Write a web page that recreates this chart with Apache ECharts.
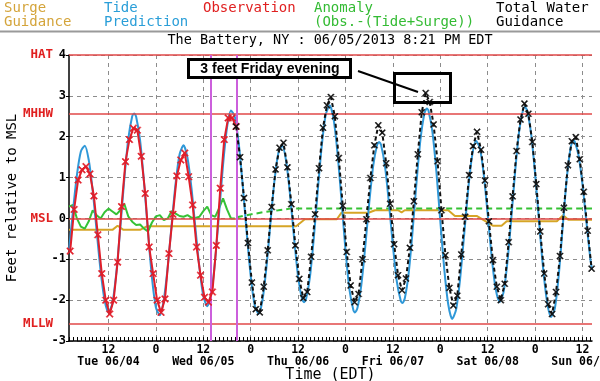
<!DOCTYPE html>
<html><head><meta charset="utf-8">
<script src="https://cdn.jsdelivr.net/npm/echarts@6/dist/echarts.min.js"></script>
<style>html,body{margin:0;padding:0;background:#fff}#c{width:600px;height:381px}</style>
</head><body><div id="c"></div>
<script>
// time axis: hours counted from 06/04/2013 00:00 EDT
const xMin = 2, xMax = 134.4;
const dayLabels = ['Tue 06/04','Wed 06/05','Thu 06/06','Fri 06/07','Sat 06/08','Sun 06/09'];
const majorTicks = [12,24,36,48,60,72,84,96,108,120,132];
const refNames = ['HAT','MHHW','MSL','MLLW'];
const refLevels = [4, 2.55, 0, -2.57];
const nowLines = [38, 44.5];

const tide = [[2,-0.78],[3,0.18],[4,1.06],[5,1.64],[6,1.78],[7,1.43],[8,0.68],[9,-0.31],[10,-1.28],[11,-2.00],[12,-2.30],[13,-2.07],[14,-1.31],[15,-0.22],[16,0.96],[17,1.94],[18,2.50],[18.5,2.57],[19,2.49],[20,1.91],[21,0.88],[22,-0.33],[23,-1.45],[24,-2.18],[25,-2.37],[26,-1.99],[27,-1.18],[28,-0.13],[29,0.87],[30,1.57],[31,1.79],[32,1.48],[33,0.75],[34,-0.23],[35,-1.19],[36,-1.90],[37,-2.15],[38,-1.85],[39,-1.02],[40,0.13],[41,1.31],[42,2.22],[43,2.64],[44,2.48],[45,1.81],[46,0.79],[47,-0.37],[48,-1.41],[49,-2.12],[50,-2.34],[51,-1.99],[52,-1.18],[53,-0.11],[54,0.91],[55,1.60],[56,1.78],[57,1.38],[58,0.54],[59,-0.50],[60,-1.43],[61,-1.98],[61.5,-2.05],[62,-1.98],[63,-1.43],[64,-0.45],[65,0.71],[66,1.79],[67,2.54],[68,2.77],[69,2.42],[70,1.57],[71,0.42],[72,-0.78],[73,-1.74],[74,-2.25],[74.4,-2.30],[75,-2.20],[76,-1.63],[77,-0.69],[78,0.37],[79,1.28],[80,1.80],[80.5,1.87],[81,1.80],[82,1.27],[83,0.37],[84,-0.67],[85,-1.55],[86,-2.02],[86.4,-2.07],[87,-1.96],[88,-1.33],[89,-0.29],[90,0.91],[91,1.95],[92,2.58],[92.6,2.69],[93,2.64],[94,2.12],[95,1.15],[96,-0.07],[97,-1.24],[98,-2.10],[99,-2.46],[100,-2.23],[101,-1.49],[102,-0.44],[103,0.65],[104,1.50],[105,1.90],[106,1.73],[107,1.07],[108,0.09],[109,-0.94],[110,-1.72],[111,-2.05],[112,-1.81],[113,-1.06],[114,0.04],[115,1.21],[116,2.17],[117,2.68],[117.4,2.73],[118,2.63],[119,2.06],[120,1.09],[121,-0.08],[122,-1.20],[123,-2.03],[124,-2.41],[125,-2.20],[126,-1.37],[127,-0.19],[128,0.97],[129,1.74],[129.7,1.91],[130,1.89],[131,1.54],[132,0.83],[133,-0.10],[134,-1.01],[134.4,-1.25]];

// hourly observations starting 06/04 02:18
const obsStart = 2.3;
const observation = [-0.80,0.22,0.94,1.19,1.27,1.09,0.55,-0.40,-1.35,-2.00,-2.34,-2.00,-1.07,0.29,1.39,1.93,2.21,2.16,1.52,0.61,-0.70,-1.35,-2.00,-2.30,-1.97,-0.86,0.10,1.04,1.43,1.60,1.02,0.33,-0.70,-1.39,-1.93,-2.05,-1.80,-0.66,0.74,1.93,2.46,2.46,2.25];

// hourly total water guidance starting 06/05 20:18
const twgStart = 44.3;
const totalWater = [2.25,1.50,0.50,-0.60,-1.57,-2.22,-2.30,-1.67,-0.78,0.28,1.20,1.73,1.85,1.25,0.35,-0.66,-1.48,-1.95,-1.80,-0.94,0.10,1.23,2.22,2.77,2.97,2.50,1.48,0.31,-0.82,-1.64,-2.05,-1.85,-1.00,-0.02,0.99,1.79,2.28,2.10,1.35,0.36,-0.63,-1.39,-1.76,-1.47,-0.72,0.42,1.57,2.60,3.07,2.85,2.30,1.40,0.20,-0.90,-1.70,-2.13,-1.89,-0.88,0.04,1.06,1.77,2.12,1.68,0.93,-0.07,-1.02,-1.67,-2.00,-1.60,-0.58,0.54,1.65,2.42,2.81,2.56,1.87,0.84,-0.32,-1.35,-2.10,-2.34,-1.80,-0.92,0.26,1.30,1.89,1.99,1.45,0.65,-0.30,-1.23];

// hourly anomaly (observed) starting 06/04 02:00
const anomalyStart = 2;
const anomalyObs = [0.29,0.33,0.00,-0.20,-0.25,-0.07,0.20,0.08,0.00,0.15,0.24,0.17,0.10,0.20,0.36,0.05,-0.08,-0.16,-0.15,-0.25,-0.32,-0.10,0.05,0.08,-0.04,0.00,0.18,0.12,0.06,0.04,0.08,0.02,0.01,0.04,0.18,0.29,0.08,0.04,0.25,0.49,0.22,0.00,0.00];
const anomalyFcst = [[44.5,0.03],[47,0.08],[51,0.15],[55,0.20],[58,0.24],[134.4,0.24]];

const surge = [[2,-0.28],[13,-0.28],[14.3,-0.18],[15.8,-0.28],[20,-0.28],[21.8,-0.19],[59.5,-0.19],[61.7,-0.02],[69.8,-0.02],[71,0.14],[77.8,0.14],[79.5,0.20],[85.3,0.20],[86.2,0.15],[87,0.20],[98,0.20],[99.7,0.06],[105.2,0.06],[109.4,-0.18],[111.5,-0.18],[112.8,-0.07],[125.5,-0.07],[127.1,0.08],[128.4,-0.03],[134.4,-0.03]];

const hourTicks = [];
for (let h = Math.ceil(xMin); h <= xMax; h++) hourTicks.push(h);
const withTimes = (start, vals) => vals.map((v, i) => [start + i, v]);

const mono = '"DejaVu Sans Mono", monospace';
const XSYM = 'path://M0,1.2L1.2,0L5,3.8L8.8,0L10,1.2L6.2,5L10,8.8L8.8,10L5,6.2L1.2,10L0,8.8L3.8,5Z';
const RED = '#e01e2a', BLUE = '#2f98d8', GREEN = '#35c235', GOLD = '#d6a526', REFRED = '#e04848';

const chart = echarts.init(document.getElementById('c'), null, {renderer: 'canvas'});
chart.setOption({
  animation: false,
  backgroundColor: '#fff',
  grid: {left: 69, right: 8, top: 55, bottom: 40, containLabel: false, outerBoundsMode: 'none'},
  xAxis: [{
    type: 'value', min: xMin, max: xMax, position: 'bottom',
    axisLine: {show: true, onZero: false, lineStyle: {color: '#000', width: 1.5}},
    axisTick: {show: true, customValues: hourTicks, inside: true, length: 4, lineStyle: {color: '#000'}},
    axisLabel: {customValues: majorTicks, color: '#000', fontFamily: mono, fontSize: 11.5, fontWeight: 'bold', lineHeight: 12, margin: 3,
      formatter: v => (v % 24 === 12) ? '12\n' + dayLabels[Math.floor(v / 24)] : '0'},
    splitLine: {show: false},
    name: 'Time (EDT)', nameLocation: 'middle', nameGap: 26.5, nameMoveOverlap: false,
    nameTextStyle: {color: '#000', fontFamily: mono, fontSize: 15}
  }, {
    type: 'value', min: xMin, max: xMax, position: 'top',
    axisLine: {show: false}, axisTick: {show: false, customValues: majorTicks},
    axisLabel: {show: false, customValues: majorTicks},
    splitLine: {show: true, lineStyle: {color: '#8c8c8c', type: [4, 4], width: 1}}
  }],
  yAxis: {
    type: 'value', min: -3, max: 4, interval: 1,
    axisLine: {show: true, onZero: false, lineStyle: {color: '#000', width: 1.5}},
    axisTick: {show: true, length: 3, lineStyle: {color: '#000'}},
    axisLabel: {color: '#000', fontFamily: mono, fontSize: 12, fontWeight: 'bold', margin: 3},
    splitLine: {show: true, lineStyle: {color: '#8c8c8c', type: [4, 4], width: 1}},
    name: 'Feet relative to MSL', nameLocation: 'middle', nameGap: 50, nameMoveOverlap: false,
    nameTextStyle: {color: '#000', fontFamily: mono, fontSize: 14}
  },
  series: [
    {
      name: 'levels', type: 'line', data: [], clip: false, z: 1, silent: true,
      markLine: {
        silent: true, symbol: 'none', animation: false,
        lineStyle: {color: REFRED, width: 1.5, type: 'solid'},
        label: {show: true, position: 'start', distance: 16, color: '#e02020', fontFamily: mono, fontSize: 12.5, fontWeight: 'bold',
          formatter: p => p.name},
        data: refLevels.map((v, i) => ({yAxis: v, name: refNames[i]}))
      }
    },
    {
      name: 'now', type: 'line', data: [], clip: false, z: 2, silent: true,
      markLine: {
        silent: true, symbol: 'none', animation: false,
        lineStyle: {color: '#cc5fdc', width: 2, type: 'solid'},
        label: {show: false},
        data: nowLines.map(v => ({xAxis: v}))
      }
    },
    {name: 'Surge Guidance', type: 'line', data: surge, showSymbol: false, z: 3,
      lineStyle: {color: GOLD, width: 2}},
    {name: 'Anomaly', type: 'line', data: withTimes(anomalyStart, anomalyObs), showSymbol: false, z: 3,
      lineStyle: {color: GREEN, width: 2}},
    {name: 'Anomaly forecast', type: 'line', data: anomalyFcst, showSymbol: false, z: 3,
      lineStyle: {color: GREEN, width: 2, type: [6, 4]}},
    {name: 'Tide Prediction', type: 'line', data: tide, showSymbol: false, smooth: 0.25, z: 4,
      lineStyle: {color: BLUE, width: 2}},
    {name: 'Observation', type: 'line', data: withTimes(obsStart, observation), z: 5,
      symbol: XSYM, symbolSize: 7, showSymbol: true,
      itemStyle: {color: RED, borderColor: RED, borderWidth: 0.6},
      lineStyle: {color: RED, width: 2}},
    {name: 'Total Water Guidance', type: 'line', data: withTimes(twgStart, totalWater), z: 6,
      symbol: XSYM, symbolSize: 6.5, showSymbol: true,
      itemStyle: {color: '#111', borderColor: '#111', borderWidth: 0.5},
      lineStyle: {color: '#111', width: 2, type: [4, 3]}}
  ],
  graphic: [
    {type: 'text', left: 4, top: 1.5, style: {text: 'Surge\nGuidance', fill: '#d4a43a', fontFamily: mono, fontSize: 14, lineHeight: 13.6}},
    {type: 'text', left: 104, top: 1.5, style: {text: 'Tide\nPrediction', fill: '#2a9ed8', fontFamily: mono, fontSize: 14, lineHeight: 13.6}},
    {type: 'text', left: 203, top: 1.5, style: {text: 'Observation', fill: '#e02020', fontFamily: mono, fontSize: 14, lineHeight: 13.6}},
    {type: 'text', left: 314, top: 1.5, style: {text: 'Anomaly\n(Obs.-(Tide+Surge))', fill: '#33bb33', fontFamily: mono, fontSize: 14, lineHeight: 13.6}},
    {type: 'text', left: 496, top: 1.5, style: {text: 'Total Water\nGuidance', fill: '#000', fontFamily: mono, fontSize: 14, lineHeight: 13.6}},
    {type: 'rect', shape: {x: 0, y: 30.5, width: 600, height: 2}, style: {fill: '#9a9a9a'}},
    {type: 'text', x: 330, y: 40.5, style: {text: 'The Battery, NY : 06/05/2013 8:21 PM EDT', fill: '#000', fontFamily: mono, fontSize: 13.5, align: 'center', verticalAlign: 'middle'}},
    {type: 'rect', z: 100, shape: {x: 188.5, y: 59.5, width: 162, height: 18}, style: {fill: '#fff', stroke: '#000', lineWidth: 3}},
    {type: 'text', z: 101, x: 270, y: 69, style: {text: '3 feet Friday evening', fill: '#000', fontFamily: '"Liberation Sans", Arial, sans-serif', fontWeight: 'bold', fontSize: 14, align: 'center', verticalAlign: 'middle'}},
    {type: 'line', z: 100, shape: {x1: 358, y1: 71, x2: 418, y2: 92}, style: {stroke: '#000', lineWidth: 2}},
    {type: 'rect', z: 100, shape: {x: 394.5, y: 73.5, width: 56, height: 29}, style: {fill: 'none', stroke: '#000', lineWidth: 3}}
  ]
});
</script>
</body></html>
